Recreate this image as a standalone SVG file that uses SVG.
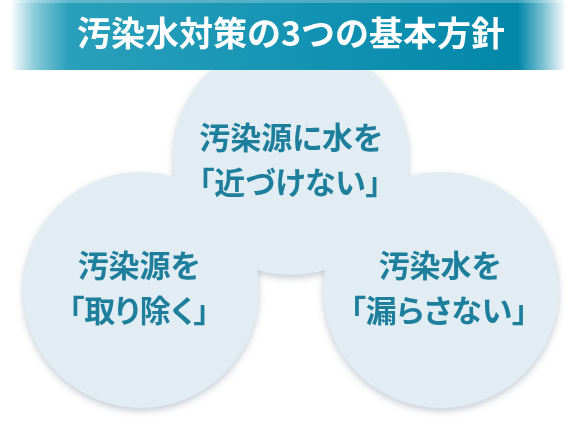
<svg xmlns="http://www.w3.org/2000/svg" width="576" height="432" viewBox="0 0 576 432">
  <defs>
    <linearGradient id="bannerGrad" gradientUnits="userSpaceOnUse" x1="0" y1="0" x2="576" y2="0">
      <stop offset="0.018" stop-color="#2aa0bb" stop-opacity="0"/>
      <stop offset="0.06" stop-color="#2aa0bb" stop-opacity="0.55"/>
      <stop offset="0.118" stop-color="#2aa0bb" stop-opacity="1"/>
      <stop offset="0.5" stop-color="#1594b3" stop-opacity="1"/>
      <stop offset="0.9" stop-color="#0287a9" stop-opacity="1"/>
      <stop offset="0.94" stop-color="#0287a9" stop-opacity="0.55"/>
      <stop offset="0.983" stop-color="#0287a9" stop-opacity="0"/>
    </linearGradient>
    <filter id="soft" x="-20%" y="-20%" width="140%" height="140%">
      <feGaussianBlur stdDeviation="3.5"/>
    </filter>
    <circle id="circ" r="118"/>
  </defs>
  <style>
    .node-bg { fill: #e2ecf3; }
    .shadow { fill: #7f8fa3; opacity: 0.45; }
    .label { font-family: "Noto Sans CJK JP", "Noto Sans", sans-serif; font-weight: bold; font-size: 31px; fill: #1e7f9c; text-anchor: middle; font-feature-settings: "palt"; }
    .title { font-family: "Noto Sans CJK JP", "Noto Sans", sans-serif; font-weight: bold; font-size: 34px; fill: #ffffff; text-anchor: middle; }
  </style>
  <rect width="576" height="432" fill="#ffffff"/>

  <!-- shadows of the three circles -->
  <g id="shadows" filter="url(#soft)">
    <use href="#circ" class="shadow" x="291" y="160"/>
    <use href="#circ" class="shadow" x="141" y="293"/>
    <use href="#circ" class="shadow" x="441" y="293"/>
  </g>

  <g id="node-top">
    <use href="#circ" class="node-bg" x="291" y="157"/>
  </g>
  <g id="node-left">
    <use href="#circ" class="node-bg" x="141" y="290"/>
  </g>
  <g id="node-right">
    <use href="#circ" class="node-bg" x="441" y="290"/>
  </g>

  <g id="labels">
    <g id="label-top">
      <text class="label" x="291" y="149">汚染源に水を</text>
      <text class="label" x="290" y="194">「近づけない」</text>
    </g>
    <g id="label-left">
      <text class="label" x="139" y="277">汚染源を</text>
      <text class="label" x="139" y="322">「取り除く」</text>
    </g>
    <g id="label-right">
      <text class="label" x="440" y="277">汚染水を</text>
      <text class="label" x="439" y="322">「漏らさない」</text>
    </g>
  </g>

  <g id="connectors"></g>

  <g id="banner">
    <rect x="0" y="0" width="576" height="70" fill="url(#bannerGrad)"/>
    <rect x="0" y="0" width="576" height="3" fill="#ffffff" opacity="0.25"/>
    <text class="title" x="291" y="46">汚染水対策の3つの基本方針</text>
  </g>
</svg>
